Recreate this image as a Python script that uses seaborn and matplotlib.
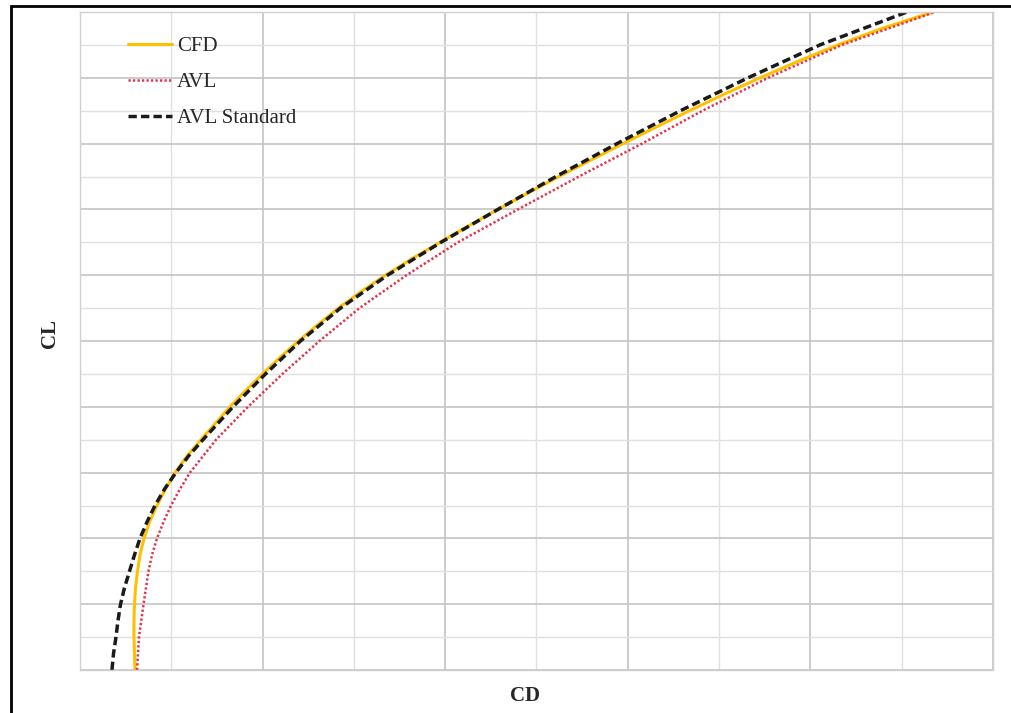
import numpy as np
import pandas as pd
import matplotlib
matplotlib.use("Agg")
import matplotlib.pyplot as plt
from matplotlib.patches import Rectangle
from matplotlib.ticker import MultipleLocator
import seaborn as sns

# Drag polar: lift coefficient (CL) against drag coefficient (CD)
cfd_cl = [0.00, 0.05, 0.10, 0.15, 0.20, 0.25, 0.30, 0.35, 0.40, 0.45,
          0.50, 0.55, 0.60, 0.65, 0.70, 0.75, 0.80, 0.85, 0.90, 0.95,
          1.00, 1.05, 1.10, 1.15, 1.20, 1.25, 1.30, 1.35, 1.40, 1.45,
          1.50, 1.55, 1.60, 1.65, 1.70, 1.75, 1.80, 1.85, 1.90, 1.95, 2.00]
cfd_cd = [0.00602, 0.00597, 0.00591, 0.00591, 0.00597, 0.00608, 0.00630, 0.00657,
          0.00701, 0.00761, 0.00843, 0.00936, 0.01041, 0.01172, 0.01325, 0.01484,
          0.01643, 0.01818, 0.01999, 0.02191, 0.02393, 0.02607, 0.02831, 0.03078,
          0.03346, 0.03636, 0.03943, 0.04255, 0.04578, 0.04907, 0.05246, 0.05597,
          0.05947, 0.06309, 0.06676, 0.07054, 0.07448, 0.07864, 0.08302, 0.08784,
          0.09343]

avl_cl = [0.00, 0.10, 0.20, 0.25, 0.30, 0.35, 0.40, 0.45, 0.50, 0.55,
          0.60, 0.70, 0.80, 0.90, 1.00, 1.10, 1.20, 1.30, 1.40, 1.50,
          1.60, 1.70, 1.80, 1.90, 2.00]
avl_cd = [0.00624, 0.00646, 0.00696, 0.00723, 0.00750, 0.00789, 0.00843, 0.00915,
          0.00997, 0.01095, 0.01205, 0.01490, 0.01840, 0.02218, 0.02623, 0.03061,
          0.03576, 0.04140, 0.04797, 0.05465, 0.06156, 0.06818, 0.07536, 0.08346,
          0.09365]

std_cl = [0.00, 0.05, 0.10, 0.15, 0.20, 0.25, 0.30, 0.35, 0.40, 0.45,
          0.50, 0.55, 0.60, 0.65, 0.70, 0.80, 0.90, 1.00, 1.10, 1.20,
          1.30, 1.40, 1.50, 1.60, 1.70, 1.80, 1.90, 2.00]
std_cd = [0.00350, 0.00367, 0.00394, 0.00416, 0.00444, 0.00487, 0.00542, 0.00597,
          0.00657, 0.00734, 0.00821, 0.00926, 0.01051, 0.01188, 0.01347, 0.01676,
          0.02032, 0.02415, 0.02853, 0.03368, 0.03954, 0.04578, 0.05214, 0.05882,
          0.06577, 0.07317, 0.08105, 0.09058]

series_names = ["CFD", "AVL", "AVL Standard"]

df = pd.concat([
    pd.DataFrame({"CD": cfd_cd, "CL": cfd_cl, "Case": series_names[0]}),
    pd.DataFrame({"CD": avl_cd, "CL": avl_cl, "Case": series_names[1]}),
    pd.DataFrame({"CD": std_cd, "CL": std_cl, "Case": series_names[2]}),
])

sns.set_theme(style="white")
plt.rcParams["font.family"] = ["Liberation Serif", "DejaVu Serif"]

fig = plt.figure(figsize=(10.11, 7.13), dpi=100)
W, H = 1011, 713
ax = fig.add_axes([80 / W, 1 - 670 / H, (993 - 80) / W, (670 - 12) / H])

styles = {
    "CFD": dict(color="#FFC000", lw=2.2, ls="-"),
    "AVL": dict(color="#E2334B", lw=1.8, ls=(0, (0.9, 0.9))),
    "AVL Standard": dict(color="#1a1a1a", lw=2.5, ls=(0, (2.4, 1.2))),
}
for name in series_names:
    sub = df[df["Case"] == name]
    st = styles[name]
    sns.lineplot(data=sub, x="CD", y="CL", sort=False, estimator=None, ax=ax,
                 color=st["color"], linewidth=st["lw"], linestyle=st["ls"],
                 label=name)

ax.set_xlim(0, 0.10)
ax.set_ylim(0, 2.0)
ax.xaxis.set_major_locator(MultipleLocator(0.02))
ax.xaxis.set_minor_locator(MultipleLocator(0.01))
ax.yaxis.set_major_locator(MultipleLocator(0.2))
ax.yaxis.set_minor_locator(MultipleLocator(0.1))
ax.grid(which="major", color="#c4c4c4", linewidth=1.2)
ax.grid(which="minor", color="#e0e0e0", linewidth=1.0)
ax.set_axisbelow(True)
ax.tick_params(which="both", length=0, labelbottom=False, labelleft=False)
for sp in ax.spines.values():
    sp.set_color("#d0d0d0")
    sp.set_linewidth(1.0)

ax.set_xlabel("")
ax.set_ylabel("")
fig.text(525 / W, 1 - 696 / H, "CD", ha="center", va="center",
         fontsize=15, fontweight="bold")
fig.text(50 / W, 1 - 334 / H, "CL", ha="center", va="center",
         rotation=90, fontsize=15, fontweight="bold")

leg = ax.legend(loc="upper left", bbox_to_anchor=(0.0435, 1 - 16 / 658),
                frameon=False, fontsize=15, handlelength=2.1,
                handletextpad=0.25, labelspacing=0.8, borderaxespad=0)

# outer frame around the chart area
fig.patches.append(Rectangle((11 / W, -0.1), 1.2, 1 - 6 / H + 0.1,
                             transform=fig.transFigure, fill=False,
                             edgecolor="black", linewidth=2.0))

fig.savefig("out.png", dpi=100)
